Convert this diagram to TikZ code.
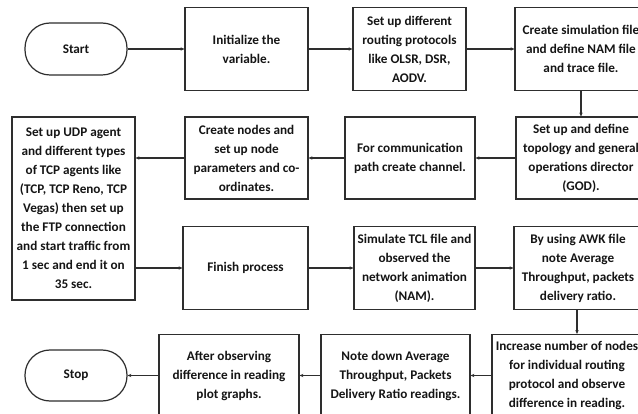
\documentclass[tikz,border=0pt]{standalone}
\usepackage{fontspec}
\setmainfont{Carlito}
\usetikzlibrary{arrows.meta}
\definecolor{edge}{HTML}{2E2E2E}
\definecolor{ink}{HTML}{151515}
\tikzset{
  stepbox/.style={draw=edge, line width=1.2pt, rectangle, align=center,
    inner sep=0pt, text=ink, font=\bfseries\fontsize{13.2}{19}\selectfont},
  termbox/.style={stepbox, rounded corners=25pt},
  flow/.style={draw=edge, line width=1.1pt, -{Stealth[length=3.8pt,width=3.4pt]}}
}
\begin{document}
\begin{tikzpicture}[x=1pt,y=-1pt]
\clip (0,0) rectangle (638,414);
\fill[white] (0,0) rectangle (638,414);
% row 1
\node[termbox, minimum width=102pt, minimum height=52pt] (start) at (76,49) {Start};
\node[stepbox, minimum width=123pt, minimum height=83pt] (init) at (246.5,49) {Initialize the\\variable.};
\node[stepbox, minimum width=113pt, minimum height=83pt] (routing) at (409.5,49) {Set up different\\routing protocols\\like OLSR, DSR,\\AODV.};
\node[stepbox, minimum width=132pt, minimum height=83pt] (simfile) at (581,49) {Create simulation file\\and define NAM file\\and trace file.};
% row 2
\node[stepbox, minimum width=130pt, minimum height=82pt] (topo) at (581,158) {Set up and define\\topology and general\\operations director\\(GOD).};
\node[stepbox, minimum width=130pt, minimum height=82pt] (chan) at (410,158) {For communication\\path create channel.};
\node[stepbox, minimum width=123pt, minimum height=82pt] (nodes) at (246.5,158) {Create nodes and\\set up node\\parameters and co-\\ordinates.};
\node[stepbox, minimum width=123pt, minimum height=183pt] (agents) at (73.5,208.5) {Set up UDP agent\\and different types\\of TCP agents like\\(TCP, TCP Reno, TCP\\Vegas) then set up\\the FTP connection\\and start traffic from\\1 sec and end it on\\35 sec.};
% row 3
\node[stepbox, minimum width=125pt, minimum height=83pt] (finish) at (245.5,268) {Finish process};
\node[stepbox, minimum width=121pt, minimum height=83pt] (tcl) at (414.5,268) {Simulate TCL file and\\observed the\\network animation\\(NAM).};
\node[stepbox, minimum width=128pt, minimum height=83pt] (awk) at (578,268) {By using AWK file\\note Average\\Throughput, packets\\delivery ratio.};
% row 4
\node[stepbox, minimum width=150pt, minimum height=82pt] (more) at (567,375.5) {Increase number of nodes\\for individual routing\\protocol and observe\\difference in reading.};
\node[stepbox, minimum width=149pt, minimum height=82pt] (note) at (395.5,375.5) {Note down Average\\Throughput, Packets\\Delivery Ratio readings.};
\node[stepbox, minimum width=140pt, minimum height=82pt] (plot) at (229,375.5) {After observing\\difference in reading\\plot graphs.};
\node[termbox, minimum width=102pt, minimum height=51pt] (stop) at (76,375.5) {Stop};
% connectors
\draw[flow] (start) -- (init);
\draw[flow] (init) -- (routing);
\draw[flow] (routing) -- (simfile);
\draw[flow] (simfile) -- (topo);
\draw[flow] (topo) -- (chan);
\draw[flow] (chan) -- (nodes);
\draw[flow] (nodes.west) -- (nodes.west -| agents.east);
\draw[flow] (agents.east |- finish.west) -- (finish.west);
\draw[flow] (finish) -- (tcl);
\draw[flow] (tcl) -- (awk);
\draw[flow] (awk.south -| 577,0) -- (more.north -| 577,0);
\draw[flow] (more) -- (note);
\draw[flow] (note) -- (plot);
\draw[flow] (plot) -- (stop);
\end{tikzpicture}
\end{document}
